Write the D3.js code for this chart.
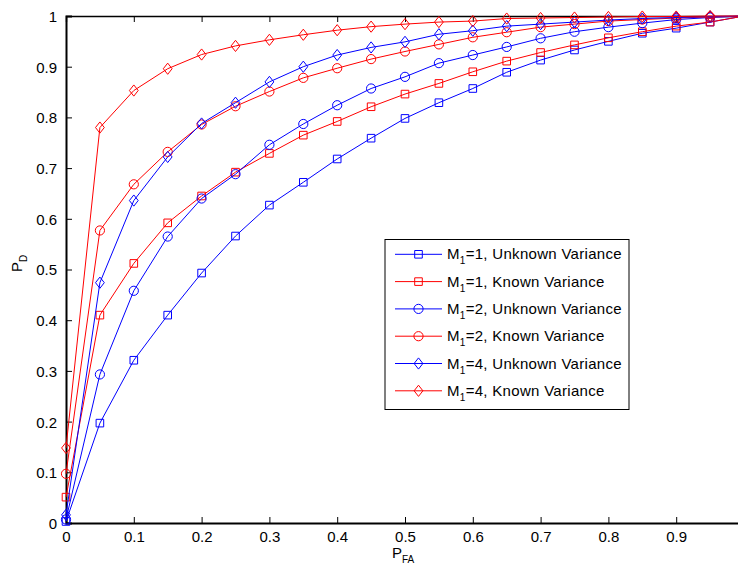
<!DOCTYPE html>
<html><head><meta charset="utf-8">
<script src="https://cdn.jsdelivr.net/npm/d3@7"></script>
<style>body{margin:0;background:#fff}svg{display:block}text{font-family:"Liberation Sans",Arial,sans-serif}</style>
</head><body><svg id="c" width="738" height="569"></svg>
<script>
const xVals = [0, 0.05, 0.1, 0.15, 0.2, 0.25, 0.3, 0.35, 0.4, 0.45, 0.5, 0.55, 0.6, 0.65, 0.7, 0.75, 0.8, 0.85, 0.9, 0.95, 1];
const m1Unknown = [0.003, 0.197, 0.321, 0.410, 0.493, 0.566, 0.627, 0.672, 0.718, 0.759, 0.798, 0.829, 0.857, 0.889, 0.913, 0.933, 0.950, 0.966, 0.976, 0.988, 1];
const m1Known   = [0.051, 0.410, 0.512, 0.592, 0.645, 0.692, 0.729, 0.765, 0.792, 0.821, 0.846, 0.867, 0.890, 0.911, 0.928, 0.943, 0.957, 0.969, 0.980, 0.988, 1];
const m2Unknown = [0.007, 0.293, 0.458, 0.565, 0.640, 0.688, 0.746, 0.787, 0.824, 0.857, 0.880, 0.907, 0.923, 0.939, 0.956, 0.969, 0.978, 0.986, 0.993, 0.997, 1];
const m2Known   = [0.097, 0.577, 0.668, 0.732, 0.786, 0.822, 0.851, 0.878, 0.897, 0.915, 0.930, 0.944, 0.958, 0.968, 0.978, 0.984, 0.990, 0.993, 0.996, 0.998, 1];
const m4Unknown = [0.016, 0.474, 0.636, 0.722, 0.788, 0.829, 0.870, 0.900, 0.923, 0.938, 0.949, 0.964, 0.971, 0.980, 0.984, 0.988, 0.992, 0.995, 0.997, 0.999, 1];
const m4Known   = [0.148, 0.780, 0.853, 0.896, 0.924, 0.941, 0.953, 0.963, 0.972, 0.979, 0.984, 0.988, 0.990, 0.995, 0.996, 0.997, 0.998, 0.999, 0.999, 1.0, 1];
const xTicks = [0, 0.1, 0.2, 0.3, 0.4, 0.5, 0.6, 0.7, 0.8, 0.9];
const yTicks = [0, 0.1, 0.2, 0.3, 0.4, 0.5, 0.6, 0.7, 0.8, 0.9, 1];
const seriesNames = ["1, Unknown Variance", "1, Known Variance", "2, Unknown Variance", "2, Known Variance", "4, Unknown Variance", "4, Known Variance"];

const series = [
  {name: seriesNames[0], vals: m1Unknown, color: "#0000ff", marker: "square"},
  {name: seriesNames[1], vals: m1Known,   color: "#ff0000", marker: "square"},
  {name: seriesNames[2], vals: m2Unknown, color: "#0000ff", marker: "circle"},
  {name: seriesNames[3], vals: m2Known,   color: "#ff0000", marker: "circle"},
  {name: seriesNames[4], vals: m4Unknown, color: "#0000ff", marker: "diamond"},
  {name: seriesNames[5], vals: m4Known,   color: "#ff0000", marker: "diamond"}
];

const svg = d3.select("#c");
const L = 66, R = 744, T = 16, B = 523;
const x = d3.scaleLinear().domain([0, 1]).range([L, R]);
const y = d3.scaleLinear().domain([0, 1]).range([B, T]);

svg.append("defs").append("clipPath").attr("id", "clip")
  .append("rect").attr("x", L - 8).attr("y", T - 8).attr("width", R - L + 16).attr("height", B - T + 16);

function markerPath(type, cx, cy) {
  if (type === "square") { const s = 3.8; return `M${cx-s},${cy-s}H${cx+s}V${cy+s}H${cx-s}Z`; }
  if (type === "circle") { const r = 4.6; return `M${cx-r},${cy}A${r},${r} 0 1,0 ${cx+r},${cy}A${r},${r} 0 1,0 ${cx-r},${cy}Z`; }
  const h = 5.6, w = 4.4; return `M${cx},${cy-h}L${cx+w},${cy}L${cx},${cy+h}L${cx-w},${cy}Z`;
}

const tickLen = 6;
const gx = svg.append("g").attr("transform", `translate(0,${B})`)
  .call(d3.axisBottom(x).tickValues(xTicks).tickSize(-tickLen).tickPadding(8).tickFormat(d => d3.format("")(d)));
const gxt = svg.append("g").attr("transform", `translate(0,${T})`)
  .call(d3.axisTop(x).tickValues(xTicks).tickSize(-tickLen).tickFormat(""));
const gy = svg.append("g").attr("transform", `translate(${L},0)`)
  .call(d3.axisLeft(y).tickValues(yTicks).tickSize(-tickLen).tickPadding(9).tickFormat(d => d3.format("")(d)));
const gyr = svg.append("g").attr("transform", `translate(${R},0)`)
  .call(d3.axisRight(y).tickValues(yTicks).tickSize(-tickLen).tickFormat(""));
[gx, gxt, gy, gyr].forEach(g => {
  g.select(".domain").attr("stroke", "#000").attr("stroke-width", 1.3);
  g.selectAll(".tick line").attr("stroke", "#000").attr("stroke-width", 1);
  g.selectAll("text").attr("font-size", 15).attr("fill", "#000").attr("font-family", "Liberation Sans, Arial, sans-serif");
});
gx.select(".domain").attr("stroke-width", 1.8);
gy.select(".domain").attr("stroke-width", 2);
gy.selectAll(".tick text").attr("dy", "0.36em");

const plot = svg.append("g").attr("clip-path", "url(#clip)");
const line = d3.line().x((d, i) => x(xVals[i])).y(d => y(d));
series.forEach(s => {
  plot.append("path").attr("d", line(s.vals)).attr("fill", "none").attr("stroke", s.color).attr("stroke-width", 1);
  plot.selectAll(null).data(s.vals).enter().append("path")
    .attr("d", (d, i) => markerPath(s.marker, x(xVals[i]), y(d)))
    .attr("fill", "none").attr("stroke", s.color).attr("stroke-width", 1);
});

const xl = svg.append("text").attr("x", 392).attr("y", 558).attr("font-size", 15).attr("fill", "#000");
xl.append("tspan").text("P");
xl.append("tspan").attr("font-size", 10).attr("dy", 5).text("FA");
const yl = svg.append("text").attr("transform", "translate(22,272) rotate(-90)").attr("font-size", 15).attr("fill", "#000");
yl.append("tspan").text("P");
yl.append("tspan").attr("font-size", 10).attr("dy", 5).text("D");

const lg = svg.append("g");
lg.append("rect").attr("x", 385).attr("y", 239.5).attr("width", 244).attr("height", 170)
  .attr("fill", "#fff").attr("stroke", "#000").attr("stroke-width", 1);
series.forEach((s, i) => {
  const cy = 254.3 + i * 27.3;
  lg.append("line").attr("x1", 395).attr("x2", 442).attr("y1", cy).attr("y2", cy).attr("stroke", s.color).attr("stroke-width", 1);
  lg.append("path").attr("d", markerPath(s.marker, 418.5, cy)).attr("fill", "none").attr("stroke", s.color).attr("stroke-width", 1);
  const t = lg.append("text").attr("x", 447).attr("y", cy + 5).attr("font-size", 15).attr("letter-spacing", 0.3).attr("fill", "#000");
  t.append("tspan").text("M");
  t.append("tspan").attr("font-size", 10).attr("dy", 5).text("1");
  t.append("tspan").attr("dy", -5).text("=" + s.name);
});
</script></body></html>
